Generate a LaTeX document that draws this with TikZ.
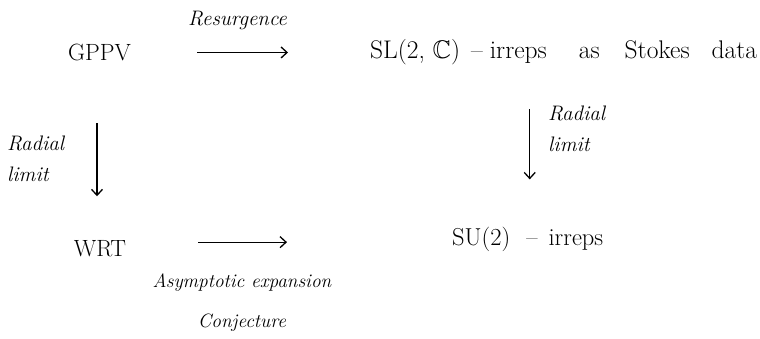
\documentclass[tikz,border=0pt]{standalone}
\usepackage{fontspec}
\usepackage{amssymb}
\usetikzlibrary{arrows.meta}

% font size with explicit leading
\newcommand\fsz[2]{\fontsize{#1}{#2}\selectfont}

\begin{document}
\begin{tikzpicture}[x=1pt,y=-1pt,
  every node/.style={inner sep=0pt, text=black},
  term/.style={anchor=base},
  arr/.style={draw=black, line width=1.3pt,
    -{Straight Barb[length=6pt,width=11pt]}}]

\fill[white] (0,0) rectangle (760,338);
\useasboundingbox (0,0) rectangle (760,338);

% the four objects
\node[term, font=\fsz{23.5}{28}] (gppv) at (99.5,60.5) {GPPV};
\node[anchor=base west, font=\fsz{25.5}{30}] (sl) at (370,58.7)
  {SL(2, $\mathbb{C}$)\hspace{11pt}--\hspace{7pt}irreps\hspace{32pt}as\hspace{25pt}Stokes\hspace{22pt}data};
\node[term, font=\fsz{23.5}{28}] (wrt) at (100,256) {WRT};
\node[anchor=base west, font=\fsz{24.5}{29}] (su) at (452,245.9)
  {SU(2)\hspace{16pt}--\hspace{11pt}irreps};

% arrow labels
\node[anchor=base, font=\itshape\fsz{21}{25}] (res) at (237.5,25) {Resurgence};
\node[anchor=north west, align=left, font=\itshape\fsz{21}{31}] (radl) at (7,135.4) {Radial\\limit};
\node[anchor=north west, align=left, font=\itshape\fsz{21}{31}] (radr) at (548,105.4) {Radial\\limit};
\node[anchor=north, align=center, font=\itshape\fsz{19.3}{40}] (ase) at (242,274)
  {Asymptotic expansion\\Conjecture};

% arrows
\draw[arr, shorten <=66pt, shorten >=82pt] (gppv.east) -- (gppv.east -| sl.west);
\draw[arr, shorten <=62pt, shorten >=43.5pt]
  ([xshift=-2.5pt]gppv.south) -- ([xshift=-2.5pt]gppv.south |- wrt.north);
\draw[arr, shorten <=44pt, shorten >=48pt]
  ([xshift=2pt]su.north |- sl.south) -- ([xshift=2pt]su.north);
\draw[arr, shorten <=72pt, shorten >=165pt]
  ([yshift=6pt]wrt.east) -- ([yshift=6pt]wrt.east -| su.west);
\end{tikzpicture}
\end{document}
